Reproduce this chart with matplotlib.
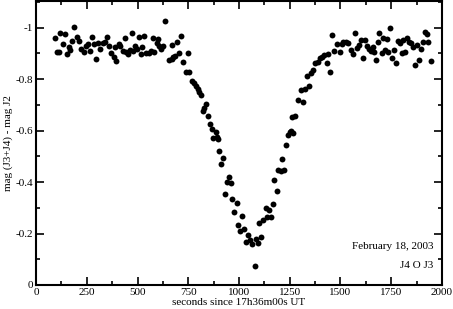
import matplotlib.pyplot as plt
import numpy as np
from matplotlib.ticker import MultipleLocator

plt.rc('font', family='Liberation Serif', size=8)

# seconds since 17h36m00s UT
t_sec = [94, 105, 118, 115, 131, 143, 151, 164, 169, 177, 186, 200, 210, 223, 238,
         246, 258, 268, 276, 287, 296, 307, 317, 332, 341, 350, 358, 369, 383, 394,
         389, 407, 415, 427, 440, 443, 455, 463, 471, 476, 489, 498, 506, 517, 522,
         534, 542, 558, 567, 575, 583, 594, 599, 608, 616, 624, 637, 657, 670, 676,
         693, 714, 668, 685, 704, 723, 747, 739, 755, 767, 778, 788, 797, 805, 813,
         837, 829, 821, 849, 857, 868, 885, 893, 873, 895, 902, 920, 911, 951, 939,
         959, 931, 967, 989, 977, 1016, 997, 1025, 1005, 1046, 1034, 1054, 1066, 1084, 1092,
         1110, 1079, 1100, 1120, 1133, 1148, 1140, 1156, 1166, 1186, 1174, 1194, 1207, 1223, 1212,
         1230, 1240, 1251, 1255, 1268, 1260, 1276, 1292, 1314, 1305, 1325, 1333, 1345, 1355, 1366,
         1374, 1388, 1399, 1410, 1419, 1432, 1440, 1450, 1460, 1468, 1481, 1498, 1506, 1514, 1527,
         1539, 1552, 1563, 1571, 1583, 1593, 1601, 1612, 1621, 1629, 1640, 1650, 1658, 1666, 1675,
         1683, 1691, 1702, 1711, 1719, 1731, 1736, 1744, 1755, 1765, 1774, 1782, 1793, 1801, 1810,
         1818, 1826, 1837, 1847, 1856, 1867, 1876, 1887, 1895, 1905, 1916, 1924, 1932, 1944]
# mag (J3+J4) - mag J2
dmag = [-0.959, -0.906, -0.980, -0.904, -0.937, -0.975, -0.896, -0.923, -0.913, -0.949,
        -1.003, -0.964, -0.949, -0.915, -0.904, -0.928, -0.936, -0.910, -0.964, -0.935,
        -0.878, -0.939, -0.917, -0.939, -0.945, -0.964, -0.930, -0.900, -0.887, -0.871,
        -0.923, -0.935, -0.928, -0.909, -0.960, -0.906, -0.897, -0.913, -0.980, -0.909,
        -0.930, -0.915, -0.964, -0.896, -0.923, -0.968, -0.900, -0.900, -0.909, -0.958,
        -0.906, -0.939, -0.955, -0.928, -0.917, -0.930, -1.025, -0.874, -0.932, -0.887,
        -0.942, -0.967, -0.876, -0.889, -0.902, -0.865, -0.902, -0.826, -0.828, -0.794,
        -0.786, -0.773, -0.761, -0.751, -0.738, -0.702, -0.686, -0.676, -0.656, -0.624,
        -0.606, -0.595, -0.576, -0.572, -0.567, -0.520, -0.493, -0.469, -0.421, -0.401,
        -0.395, -0.352, -0.333, -0.317, -0.285, -0.269, -0.233, -0.217, -0.210, -0.194,
        -0.168, -0.175, -0.158, -0.179, -0.164, -0.188, -0.075, -0.240, -0.252, -0.300,
        -0.291, -0.265, -0.265, -0.313, -0.364, -0.408, -0.447, -0.443, -0.447, -0.488,
        -0.544, -0.583, -0.595, -0.600, -0.591, -0.654, -0.656, -0.718, -0.710, -0.757,
        -0.760, -0.812, -0.773, -0.822, -0.835, -0.863, -0.865, -0.880, -0.887, -0.893,
        -0.861, -0.897, -0.826, -0.971, -0.909, -0.935, -0.906, -0.935, -0.945, -0.942,
        -0.939, -0.913, -0.897, -0.977, -0.921, -0.932, -0.951, -0.883, -0.951, -0.928,
        -0.915, -0.909, -0.926, -0.906, -0.874, -0.945, -0.977, -0.902, -0.958, -0.913,
        -0.955, -0.906, -1.000, -0.880, -0.913, -0.861, -0.947, -0.939, -0.900, -0.951,
        -0.906, -0.960, -0.945, -0.939, -0.923, -0.854, -0.932, -0.874, -0.915, -0.945,
        -0.984, -0.974, -0.945, -0.871]

fig = plt.figure(figsize=(4.53, 3.09), dpi=100)
ax = fig.add_axes([0.0795, 0.0777, 0.8962, 0.919])
ax.scatter(t_sec, dmag, s=18, color='black', linewidths=0, zorder=3)

ax.set_xlim(0, 2000)
ax.set_ylim(0, -1.103)
ax.xaxis.set_major_locator(MultipleLocator(250))
ax.xaxis.set_minor_locator(MultipleLocator(125))
ax.yaxis.set_major_locator(MultipleLocator(0.2))
ax.yaxis.set_minor_locator(MultipleLocator(0.1))
ax.set_yticks([0, -0.2, -0.4, -0.6, -0.8, -1.0])
ax.set_yticklabels(['0', '-0.2', '-0.4', '-0.6', '-0.8', '-1'])
ax.tick_params(which='both', direction='in', top=True, right=True, width=1.2)
ax.tick_params(which='major', length=6, pad=2)
ax.tick_params(which='minor', length=3)
for sp in ax.spines.values():
    sp.set_linewidth(1.5)

ax.set_xlabel('seconds since 17h36m00s UT', labelpad=1)
ax.set_ylabel('mag (J3+J4) - mag J2', labelpad=2)
ax.text(0.978, 0.137, 'February 18, 2003', transform=ax.transAxes, ha='right', va='center')
ax.text(0.978, 0.067, 'J4 O J3', transform=ax.transAxes, ha='right', va='center')

fig.savefig('out.png', dpi=100)
